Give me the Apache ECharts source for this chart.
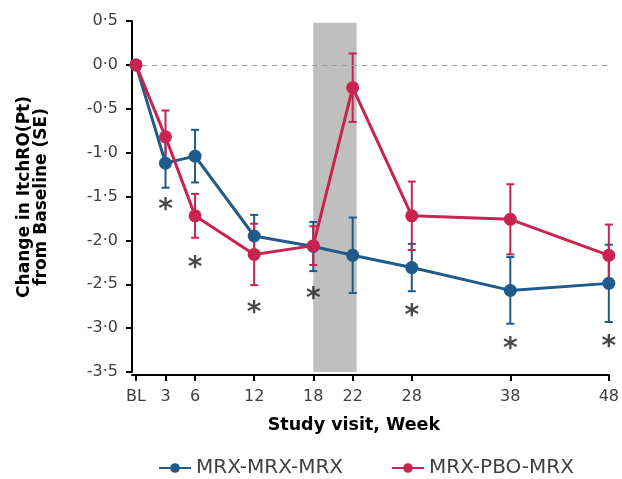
<!DOCTYPE html>
<html><head><meta charset="utf-8">
<script src="https://cdn.jsdelivr.net/npm/echarts@6/dist/echarts.min.js"></script>
<style>html,body{margin:0;padding:0;background:#fff}#c{width:622px;height:479px}</style>
</head><body><div id="c"></div>
<script>
var weeks = [0, 3, 6, 12, 18, 22, 28, 38, 48];
var weekLabels = ['BL', '3', '6', '12', '18', '22', '28', '38', '48'];
var mrxMean = [0, -1.12, -1.04, -1.95, -2.07, -2.17, -2.31, -2.57, -2.49];
var mrxSE   = [0, 0.28, 0.30, 0.24, 0.28, 0.43, 0.27, 0.38, 0.44];
var pboMean = [0, -0.82, -1.72, -2.16, -2.06, -0.26, -1.72, -1.76, -2.17];
var pboSE   = [0, 0.30, 0.25, 0.35, 0.22, 0.39, 0.39, 0.40, 0.35];
var starWeeks = [3, 6, 12, 18, 28, 38, 48];
var starY = [-1.58, -2.24, -2.76, -2.60, -2.79, -3.17, -3.14];
var bandWeeks = [18, 22.4];
var yTicks = {min: -3.5, max: 0.5, interval: 0.5};

var BLUE = '#1e5a8a', RED = '#c9244f';
var FONT = 'DejaVu Sans';

function pts(m){ return weeks.map(function(w,i){ return [w, m[i]]; }); }
function errData(m, s){ return weeks.map(function(w,i){ return [w, m[i]-s[i], m[i]+s[i]]; }).filter(function(d,i){return s[i]>0;}); }
function errSeries(name, m, s, color){
  return {
    type: 'custom', name: name + ' SE', z: 3,
    data: errData(m, s),
    renderItem: function(params, api){
      var x = api.value(0);
      var lo = api.coord([x, api.value(1)]);
      var hi = api.coord([x, api.value(2)]);
      var hw = 4;
      var st = {stroke: color, lineWidth: 2};
      return {type: 'group', children: [
        {type: 'line', shape: {x1: lo[0], y1: lo[1], x2: hi[0], y2: hi[1]}, style: st},
        {type: 'line', shape: {x1: lo[0]-hw, y1: lo[1], x2: lo[0]+hw, y2: lo[1]}, style: st},
        {type: 'line', shape: {x1: hi[0]-hw, y1: hi[1], x2: hi[0]+hw, y2: hi[1]}, style: st}
      ]};
    },
    silent: true, tooltip: {show: false}
  };
}

var chart = echarts.init(document.getElementById('c'));
chart.setOption({
  animation: false,
  textStyle: {fontFamily: FONT},
  grid: {left: 132, right: 11, top: 21, bottom: 107},
  legend: {
    top: 453, left: 153, itemGap: 48, itemWidth: 32, itemHeight: 12,
    data: ['MRX-MRX-MRX', 'MRX-PBO-MRX'],
    textStyle: {fontFamily: FONT, fontSize: 20, color: '#404040'}
  },
  xAxis: {
    type: 'value', min: -0.4, max: 48, offset: 3,
    splitLine: {show: false},
    axisLine: {onZero: false, lineStyle: {color: '#000', width: 2}},
    axisTick: {show: true, customValues: weeks, length: 6, lineStyle: {color: '#000', width: 2}},
    axisLabel: {customValues: weeks, formatter: function(v){ var i = weeks.indexOf(v); return i >= 0 ? weekLabels[i] : ''; },
      color: '#404040', fontSize: 16, fontFamily: FONT, margin: 14},
    name: 'Study visit, Week', nameLocation: 'middle', nameGap: 41,
    nameTextStyle: {fontWeight: 'bold', fontSize: 17.5, color: '#000', fontFamily: FONT, padding: [0, 33, 0, 0]}
  },
  yAxis: {
    type: 'value', min: yTicks.min, max: yTicks.max, interval: yTicks.interval,
    splitLine: {show: false},
    axisLine: {show: true, onZero: false, lineStyle: {color: '#000', width: 2}},
    axisTick: {show: true, length: 6, lineStyle: {color: '#000', width: 2}},
    axisLabel: {formatter: function(v){ return v.toFixed(1).replace('.', '\u00b7'); }, color: '#404040', fontSize: 16, fontFamily: FONT, margin: 14}
  },
  graphic: [{
    type: 'text', left: 16, top: 96,
    rotation: Math.PI/2,
    style: {text: 'Change in ItchRO(Pt)\nfrom Baseline (SE)', font: 'bold 17px ' + FONT, fill: '#000', textAlign: 'center', lineHeight: 17}
  }],
  series: [
    {
      type: 'line', name: 'band', z: 1, data: [], silent: true,
      markArea: {silent: true, itemStyle: {color: '#bfbfbf', opacity: 1},
        data: [[{xAxis: bandWeeks[0], yAxis: 0.48}, {xAxis: bandWeeks[1], yAxis: yTicks.min}]]},
      markLine: {silent: true, symbol: 'none', label: {show: false},
        lineStyle: {color: '#999', type: [5, 5], width: 1.2},
        data: [{yAxis: 0}]}
    },
    errSeries('MRX-MRX-MRX', mrxMean, mrxSE, BLUE),
    errSeries('MRX-PBO-MRX', pboMean, pboSE, RED),
    {
      type: 'line', name: 'MRX-MRX-MRX', z: 4, data: pts(mrxMean),
      symbol: 'circle', symbolSize: 13, color: BLUE,
      lineStyle: {width: 3, color: BLUE}, itemStyle: {color: BLUE}
    },
    {
      type: 'line', name: 'MRX-PBO-MRX', z: 5, data: pts(pboMean),
      symbol: 'circle', symbolSize: 13, color: RED,
      lineStyle: {width: 3, color: RED}, itemStyle: {color: RED}
    },
    {
      type: 'scatter', name: 'sig', z: 6, silent: true,
      data: starWeeks.map(function(w,i){ return [w, starY[i]]; }),
      symbolSize: 1, itemStyle: {color: 'rgba(0,0,0,0)'},
      label: {show: true, position: 'inside', formatter: '*', fontSize: 28, fontWeight: 'bold', color: '#1a1a1a', offset: [0, 7], fontFamily: FONT}
    }
  ]
});
</script></body></html>
